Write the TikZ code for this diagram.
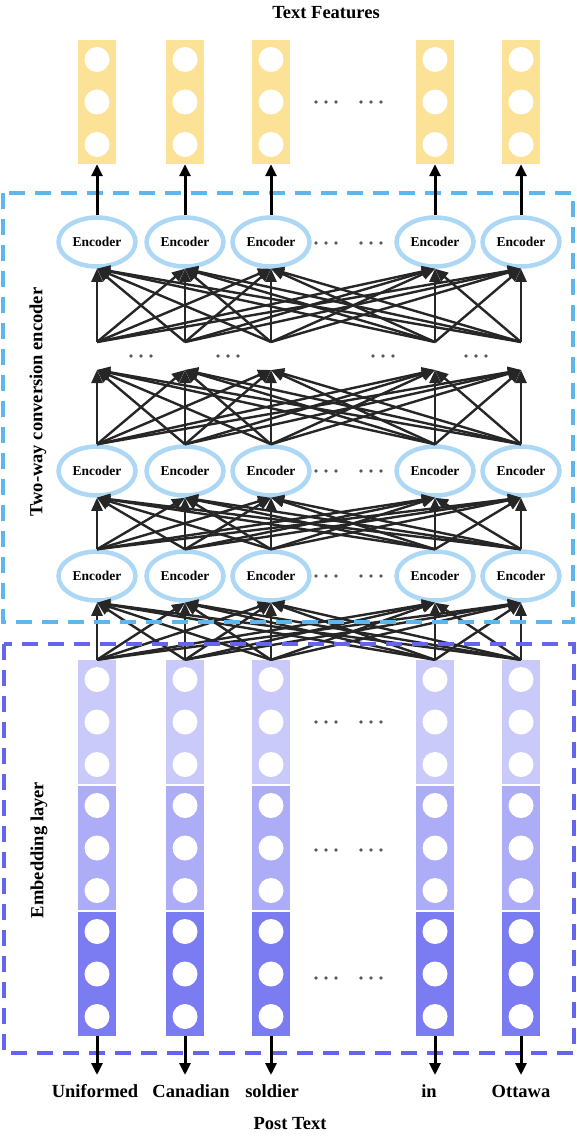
\documentclass[tikz,border=0pt]{standalone}
\usepackage{fontspec}
\setmainfont{Liberation Serif}
\usetikzlibrary{arrows.meta,shapes.geometric}

\definecolor{featyellow}{RGB}{252,226,150}
\definecolor{encblue}{RGB}{172,215,245}
\definecolor{boxblue}{RGB}{95,182,236}
\definecolor{boxviolet}{RGB}{100,100,236}
\definecolor{embA}{RGB}{202,202,250}
\definecolor{embB}{RGB}{172,172,247}
\definecolor{embC}{RGB}{124,124,242}
\definecolor{linkgray}{RGB}{38,38,38}

\tikzset{
  featbox/.style={rectangle, fill=featyellow, minimum width=38pt, minimum height=124pt, inner sep=0pt},
  embbox/.style={rectangle, minimum width=38pt, minimum height=124pt, inner sep=0pt},
  unit/.style={circle, fill=white, minimum size=25pt, inner sep=0pt},
  encoder/.style={ellipse, draw=encblue, fill=white, line width=4.5pt, minimum width=77pt,
    minimum height=49pt, inner sep=0pt, font=\bfseries\fontsize{13.5}{15}\selectfont},
  link/.style={draw=linkgray, line width=2.4pt, -{Triangle[length=13pt,width=11pt]}},
  outarrow/.style={draw=black, line width=3pt, -{Triangle[length=12pt,width=11pt]}},
  region/.style={dash pattern=on 16pt off 10pt, line width=3.2pt},
  caption/.style={font=\bfseries\fontsize{18.5}{20}\selectfont, inner sep=0pt},
  dotmark/.style={fill=gray!70!black},
}

\begin{document}
\begin{tikzpicture}[x=1pt,y=-1pt]
\useasboundingbox (0,0) rectangle (577,1137);

% columns: feature vectors, three encoder layers, embedding stacks
\foreach \x [count=\i] in {97,185,271,435,521} {
  \node[featbox] (f\i) at (\x,102) {};
  \foreach \y [count=\j] in {59.5,102,144.5}
    \node[unit] (f\i u\j) at (\x,\y) {};
  \node[encoder] (ea\i) at (\x,242) {Encoder};
  \node[encoder] (eb\i) at (\x,471) {Encoder};
  \node[encoder] (ec\i) at (\x,576) {Encoder};
  \coordinate (pa\i) at (\x,342);
  \coordinate (pb\i) at (\x,370);
  \node[embbox, fill=embA] (ma\i) at (\x,722) {};
  \node[embbox, fill=embB] (mb\i) at (\x,848) {};
  \node[embbox, fill=embC] (mc\i) at (\x,974) {};
  \foreach \d [count=\j] in {-42.5,0,42.5} {
    \node[unit] (ma\i u\j) at (\x,722+\d) {};
    \node[unit] (mb\i u\j) at (\x,848+\d) {};
    \node[unit] (mc\i u\j) at (\x,974+\d) {};
  }
  \coordinate (t\i) at (\x,1075);
}

% fully connected links between consecutive layers
\foreach \i in {1,...,5} {
  \foreach \j in {1,...,5} {
    \draw[link] (pa\i) -- (ea\j.south);
    \draw[link] (eb\i.north) -- (pb\j);
    \draw[link] (ec\i.north) -- (eb\j.south);
    \draw[link] (ma\i.north) -- (ec\j.south);
  }
}

% dashed regions
\draw[region, draw=boxblue] (3,193) rectangle (573,622);
\draw[region, draw=boxviolet] (4,644) rectangle (574,1053);

% outputs and inputs
\foreach \i in {1,...,5} {
  \draw[outarrow] (ea\i.north) -- (f\i.south);
  \draw[outarrow] (mc\i.south) -- (t\i);
}

% ellipsis dots
\foreach \y in {102,243,471,576,722,850,978}
  \foreach \cx in {326,371}
    \foreach \d in {-10,0,10}
      \fill[dotmark] (\cx+\d,\y) circle[radius=1.8pt];
\foreach \cx in {141,228,383,476}
  \foreach \d in {-10,0,10}
    \fill[dotmark] (\cx+\d,356) circle[radius=1.8pt];

% labels
\node[caption, anchor=base] (tf) at (326,19) {Text Features};
\node[caption, rotate=90] (twl) at (38,402) {Two-way conversion encoder};
\node[caption, rotate=90] (eml) at (39,850) {Embedding layer};
\node[caption, anchor=base] (w1) at (95,1097) {Uniformed};
\node[caption, anchor=base] (w2) at (191,1097) {Canadian};
\node[caption, anchor=base] (w3) at (272,1097) {soldier};
\node[caption, anchor=base] (w4) at (429,1097) {in};
\node[caption, anchor=base] (w5) at (521,1097) {Ottawa};
\node[caption, anchor=base] (pt) at (290,1129) {Post Text};
\end{tikzpicture}
\end{document}
